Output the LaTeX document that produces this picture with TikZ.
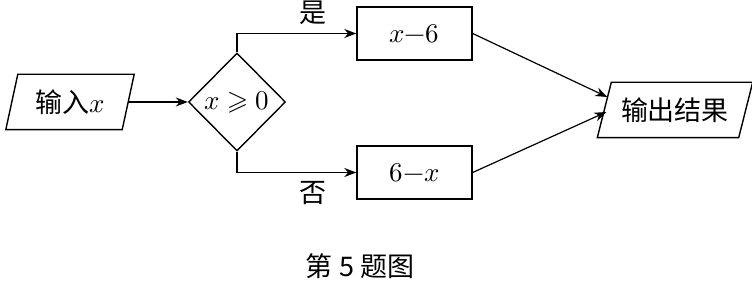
\documentclass[tikz,border=0pt]{standalone}
\usepackage{fontspec}
\usepackage{unicode-math}
\setmathfont{Latin Modern Math}
\newfontfamily\cjk{Noto Sans CJK SC}
\usetikzlibrary{shapes.geometric,arrows.meta}

\begin{document}
\begin{tikzpicture}[x=0.5pt,y=-0.5pt,line width=0.7pt,
  >={Stealth[length=6pt,width=4.5pt]},
  every node/.style={font=\fontsize{13.5}{15}\selectfont},
  box/.style={draw,rectangle,minimum width=57.5pt,minimum height=26.5pt,inner sep=0pt},
  io/.style={rectangle,minimum height=27pt,inner sep=0pt},
  cond/.style={draw,diamond,minimum width=48.5pt,minimum height=49pt,inner sep=0pt}]

\useasboundingbox (0,0) rectangle (752,287);

% Knoten
\node[io,minimum width=57.5pt] (in) at (70,102) {{\cjk 输入}$x$};
\node[cond] (test) at (237,102) {$x\geqslant0$};
\node[box] (yes) at (414.5,33.5) {$x{-}6$};
\node[box] (no) at (414.5,172.5) {$6{-}x$};
\node[io,minimum width=70pt] (out) at (675,110) {\cjk 输出结果};

% Parallelogramme
\draw ([xshift=-3pt]in.south west) -- ([xshift=3pt]in.north west)
  -- ([xshift=3pt]in.north east) -- ([xshift=-3pt]in.south east) -- cycle;
\draw ([xshift=-3.5pt]out.south west) -- ([xshift=3.5pt]out.north west)
  -- ([xshift=3.5pt]out.north east) -- ([xshift=-3.5pt]out.south east) -- cycle;

% Pfeile
\draw[->,line width=0.6pt] (in.east) -- (test.west);
\draw[->,line width=0.6pt] (test.north) |- node[pos=0.82,above=1pt] (ja) {\cjk 是} (yes.west);
\draw[->,line width=0.6pt] (test.south) |- node[pos=0.82,below=1pt] (nein) {\cjk 否} (no.west);
\draw[->,line width=0.6pt] (yes.east) -- ([xshift=1.5pt,yshift=6.5pt]out.west);
\draw[->,line width=0.6pt] (no.east) -- ([xshift=1pt,yshift=-1pt]out.west);

\node (cap) at (360,266) {\cjk 第 5 题图};

\end{tikzpicture}
\end{document}
